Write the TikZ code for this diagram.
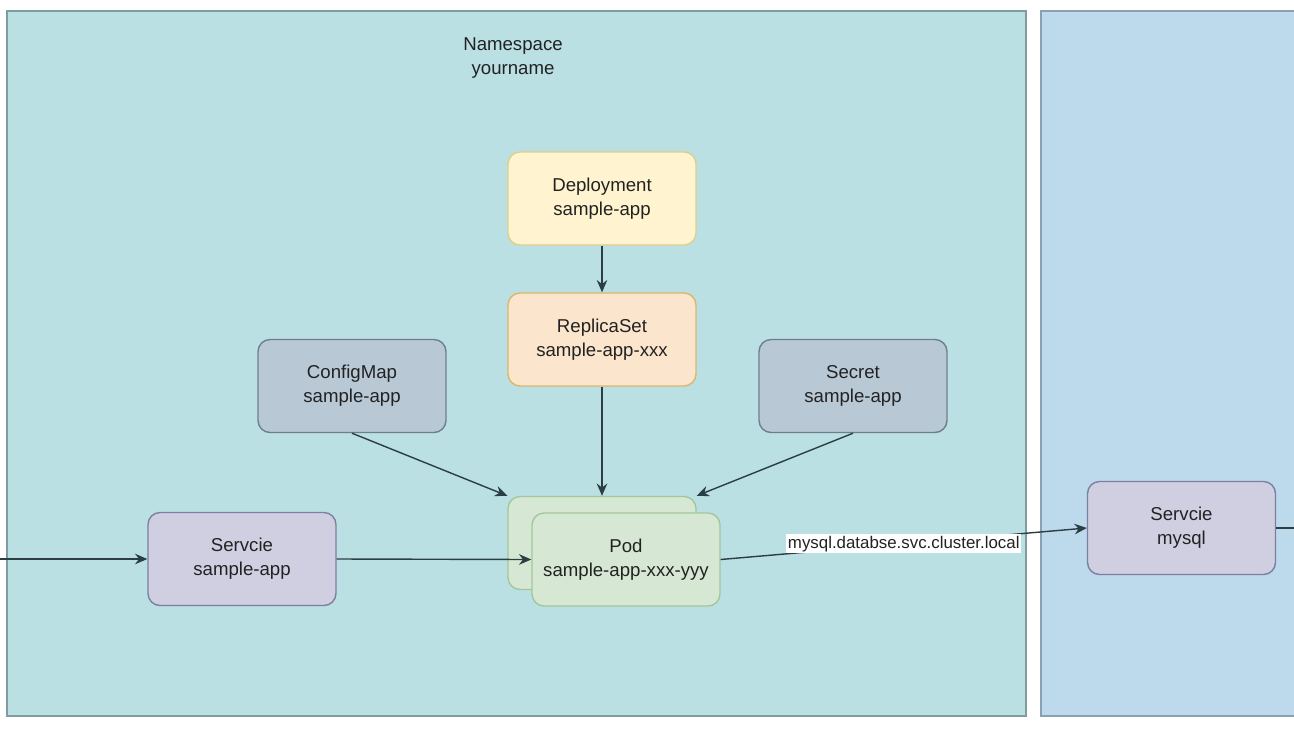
\documentclass[tikz,border=0pt]{standalone}
\usepackage{fontspec}
\setmainfont{Liberation Sans}
\usetikzlibrary{arrows.meta}

\definecolor{nsfill}{HTML}{BAE0E4}
\definecolor{nsline}{HTML}{7F9C9F}
\definecolor{dbfill}{HTML}{BCDAEC}
\definecolor{dbline}{HTML}{8AA1B1}
\definecolor{depfill}{HTML}{FFF4CF}
\definecolor{depline}{HTML}{E0CE8A}
\definecolor{rsfill}{HTML}{FBE5CD}
\definecolor{rsline}{HTML}{D9B86A}
\definecolor{cfgfill}{HTML}{B8C8D5}
\definecolor{cfgline}{HTML}{6D7F8E}
\definecolor{podfill}{HTML}{D6E8D4}
\definecolor{podline}{HTML}{A4C69A}
\definecolor{svcfill}{HTML}{D0CFE2}
\definecolor{svcline}{HTML}{7C7FA0}
\definecolor{wire}{HTML}{2B3E44}
\definecolor{ink}{HTML}{222222}

\begin{document}
\begin{tikzpicture}[x=0.02cm, y=-0.02cm,
    every node/.style={text=ink, font=\fontsize{10.6}{13.6}\selectfont},
    kbox/.style={rounded corners=0.24cm, line width=0.8pt, align=center,
      minimum width=3.76cm, minimum height=1.86cm, inner sep=0pt},
    dep/.style={kbox, draw=depline, fill=depfill},
    rs/.style={kbox, draw=rsline, fill=rsfill},
    cfg/.style={kbox, draw=cfgline, fill=cfgfill},
    pod/.style={kbox, draw=podline, fill=podfill},
    svc/.style={kbox, draw=svcline, fill=svcfill},
    link/.style={draw=wire, line width=0.8pt, -{Stealth[length=7pt, width=6pt]}}]

    \useasboundingbox (0, 0) rectangle (1294, 730);

    % namespaces
    \draw [nsline, fill=nsfill, line width=1.2pt] (7, 11) rectangle (1026, 716);
    \draw [dbline, fill=dbfill, line width=1.2pt] (1041, 11) rectangle (1300, 716);

    \node [align=center] (nslabel) at (513, 58) {Namespace\\yourname};

    \node [dep] (deploy) at (602, 198.5) {Deployment\\sample-app};
    \node [rs] (replica) at (602, 339.5) {ReplicaSet\\sample-app-xxx};
    \node [cfg] (config) at (352, 386) {ConfigMap\\sample-app};
    \node [cfg] (secret) at (853, 386) {Secret\\sample-app};

    \node [pod] (podback) at (602, 543) {};
    \node [pod] (pod) at (626, 559.5) {Pod\\sample-app-xxx-yyy};

    \node [svc] (svcapp) at (242, 559) {Servcie\\sample-app};
    \node [svc] (svcdb) at (1181.5, 528) {Servcie\\mysql};

    \coordinate (ingress) at (0, 559);
    \coordinate (egress) at (1300, 528);

    \draw [link] (deploy) -- (replica);
    \draw [link] (replica) -- (podback.north);
    \draw [link] (config.south) -- (podback.north west);
    \draw [link] (secret.south) -- (podback.north east);

    \draw [link] (ingress) -- (svcapp.west);
    \draw [link] (svcapp.east) -- (pod.west);

    \draw [link] (pod.east) -- node [fill=white, inner sep=1pt,
      font=\fontsize{9.6}{11}\selectfont] (dns) {mysql.databse.svc.cluster.local}
    (svcdb.west);

    \draw [wire, line width=0.8pt] (svcdb.east) -- (egress);

  \end{tikzpicture}
\end{document}
